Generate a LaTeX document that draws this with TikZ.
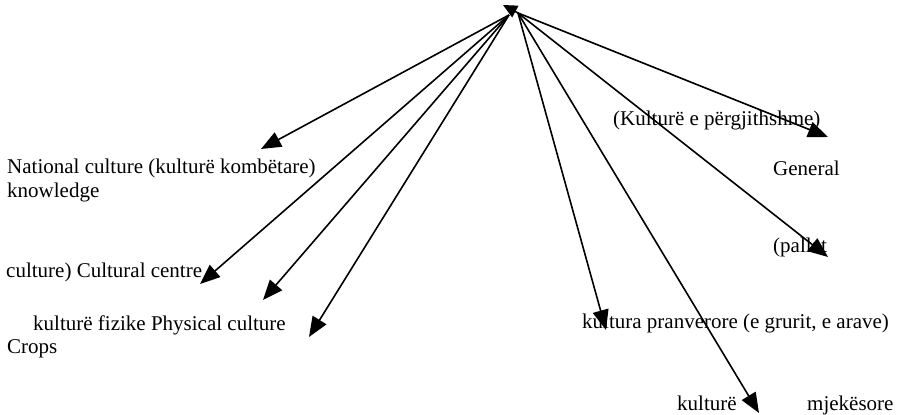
\documentclass[tikz,border=0pt]{standalone}
\usepackage{fontspec}
\setmainfont{Liberation Serif}
\usetikzlibrary{arrows.meta}
\begin{document}
\begin{tikzpicture}[x=1pt,y=-1pt,
  arr/.style={line width=1.6pt,-{Triangle[length=20pt,width=16pt]}},
  lbl/.style={anchor=base west,inner sep=0pt,font=\fontsize{21}{25}\selectfont}]
\useasboundingbox (0,0) rectangle (900,415);
% hub
\coordinate (hubL) at (509,15);
\coordinate (hubR) at (518,13);
\coordinate (hubtip) at (503,5);
% arrow tips
\coordinate (t1) at (261,149);
\coordinate (t2) at (200,284);
\coordinate (t3) at (263,300);
\coordinate (t4) at (309,337);
\coordinate (t5) at (606,330);
\coordinate (t6) at (759,413);
\coordinate (t7) at (828,137);
\coordinate (t8) at (828,257);
% labels
\node[lbl] (nat) at (7,173) {National culture (kulturë kombëtare)};
\node[lbl] (know) at (7,197) {knowledge};
\node[lbl] (cc) at (6,277) {culture) Cultural centre};
\node[lbl] (fiz) at (33,330) {kulturë fizike Physical culture};
\node[lbl] (crops) at (7,353) {Crops};
\node[lbl] (perg) at (613,125) {(Kulturë e përgjithshme)};
\node[lbl] (gen) at (773,175) {General};
\node[lbl] (pal) at (773,252) {(pallat};
\node[lbl] (pran) at (582,328) {kultura pranverore (e grurit, e arave)};
\node[lbl] (mj1) at (677,410) {kulturë};
\node[lbl] (mj2) at (807,410) {mjekësore};
% arrows
\draw[arr] (hubL) -- (t1);
\draw[arr] (hubL) -- (t2);
\draw[arr] (hubL) -- (t3);
\draw[arr] (hubL) -- (t4);
\draw[arr] (hubR) -- (t5);
\draw[arr] (hubR) -- (t6);
\draw[arr] (hubR) -- (t7);
\draw[arr] (hubR) -- (t8);
\draw[line width=1.6pt,-{Triangle[length=14pt,width=13pt]}] (hubR) -- (hubtip);
\end{tikzpicture}
\end{document}
